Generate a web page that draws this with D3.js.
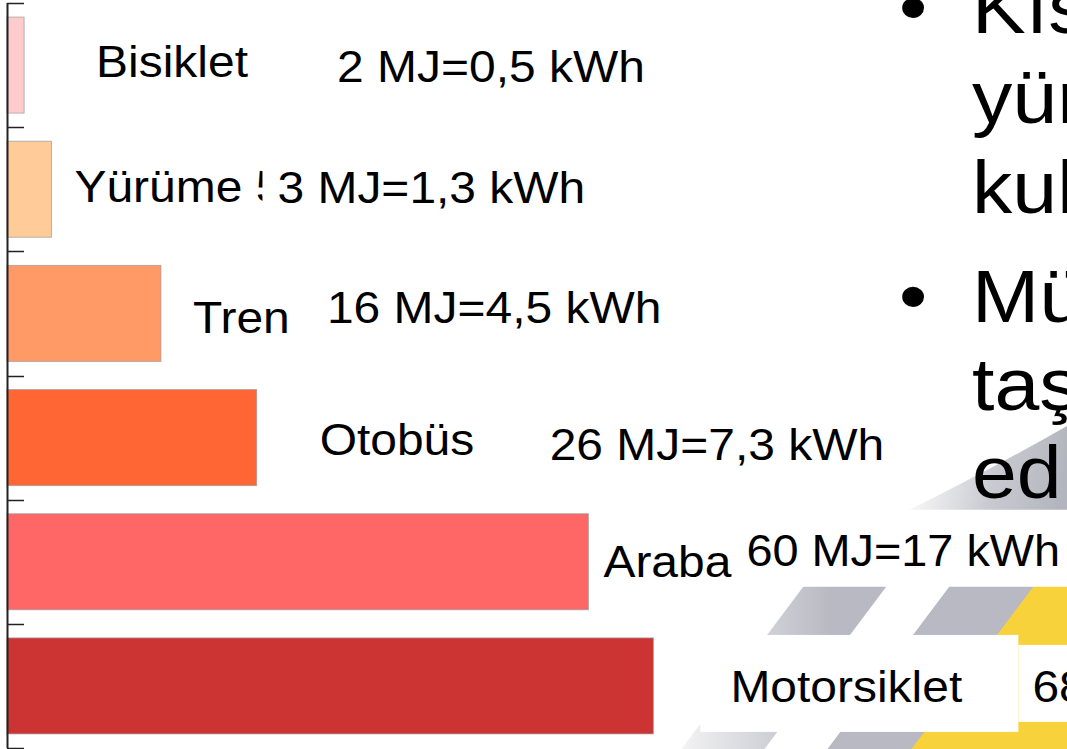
<!DOCTYPE html>
<html><head><meta charset="utf-8">
<script src="https://cdn.jsdelivr.net/npm/d3@7"></script>
<style>html,body{margin:0;padding:0;background:#fff;overflow:hidden}svg{display:block}</style>
</head><body>
<svg id="c" width="1067" height="749"></svg>
<script>
// ---- data ----
const categories = ["Bisiklet", "Yürüme", "Tren", "Otobüs", "Araba", "Motorsiklet"];
const valuesKWh = [0.5, 1.3, 4.5, 7.3, 17, 18.9];
const nameLabels = ["Bisiklet", "Yürüme 5", "Tren", "Otobüs", "Araba", "Motorsiklet"];
const valueLabels = ["2 MJ=0,5 kWh", "3 MJ=1,3 kWh", "16 MJ=4,5 kWh", "26 MJ=7,3 kWh", "60 MJ=17 kWh", "68 MJ=19 kWh"];
const bulletLines = [["Kıs", "yür", "kul"], ["Mü", "taş", "edi"]];

// ---- layout / style ----
const barColors = ["#FFCCCC", "#FFCC99", "#FF9966", "#FF6633", "#FF6666", "#CC3333"];
const nameDx = [72, 23, 32, 63, 15, 77];
const nameDy = [12, 13, 20, 17, 15, 16];
const valueDx = [313, 226, 166, 293, 158, 379];
const valueDy = [17, 14, 10, 22, 4, 16];
const valueSX = [1.09, 1.09, 1.09, 1.09, 1.065, 1.09];
const FONT = "'Liberation Sans', Arial, sans-serif";
const SX = 1.09;

const W = 1067, H = 749;
const svg = d3.select("#c");

const x = d3.scaleLinear().domain([0, 20]).range([7, 7 + 20 * 34.2]);
const y = d3.scaleBand().domain(categories).range([3, 748]).padding(0);
const barH = 96;

// ---- background slide graphic ----
const defs = svg.append("defs");
const g1 = defs.append("linearGradient").attr("id", "fade")
  .attr("gradientUnits", "userSpaceOnUse").attr("x1", 650).attr("x2", 830).attr("y1", 0).attr("y2", 0);
g1.append("stop").attr("offset", 0).attr("stop-color", "#B8B9C2").attr("stop-opacity", 0);
g1.append("stop").attr("offset", 1).attr("stop-color", "#B8B9C2").attr("stop-opacity", 1);
const g2 = defs.append("linearGradient").attr("id", "fadeTop")
  .attr("gradientUnits", "userSpaceOnUse").attr("x1", 905).attr("y1", 470).attr("x2", 1060).attr("y2", 500);
g2.append("stop").attr("offset", 0).attr("stop-color", "#B8B9C2").attr("stop-opacity", 0);
g2.append("stop").attr("offset", 0.55).attr("stop-color", "#B8B9C2").attr("stop-opacity", 0.75);
g2.append("stop").attr("offset", 1).attr("stop-color", "#B3B5BE").attr("stop-opacity", 1);
defs.append("clipPath").attr("id", "deco").append("path")
  .attr("d", `M1067,512 L1067,749 L560,749 L560,512 Z`);
// upper swoosh part (solid gradient, above the "60 MJ" text box)
svg.append("path").attr("fill", "url(#fadeTop)")
  .attr("d", "M905,512 Q990,470 1067,426 L1067,512 Z");
const deco = svg.append("g").attr("clip-path", "url(#deco)");
const slope = 0.75;
function stripe(x0, x1, fill) {
  const yA = 500, yB = 749;
  const sh = v => (v - 635) * slope;
  deco.append("path").attr("fill", fill)
    .attr("d", `M${x0 - sh(yA)},${yA} L${x1 - sh(yA)},${yA} L${x1 - sh(yB)},${yB} L${x0 - sh(yB)},${yB} Z`);
}
stripe(767, 850, "url(#fade)");
stripe(913, 998, "#B8B9C2");
stripe(997, 1400, "#F8D23A");

// ---- bars ----
svg.append("g").selectAll("rect").data(categories).join("rect")
  .attr("x", x(0))
  .attr("y", d => y(d) + (y.bandwidth() - barH) / 2)
  .attr("width", (d, i) => x(valuesKWh[i]) - x(0))
  .attr("height", barH)
  .attr("fill", (d, i) => barColors[i])
  .attr("stroke", "#9a9a9a").attr("stroke-opacity", 0.7).attr("stroke-width", 1);

// ---- axis (line + ticks at band boundaries) ----
const ax = svg.append("g");
ax.append("line").attr("x1", 7.5).attr("x2", 7.5).attr("y1", y.range()[0]).attr("y2", y.range()[1])
  .attr("stroke", "#222").attr("stroke-width", 2);
const bounds = categories.map(c => y(c)).concat([y.range()[1]]);
ax.selectAll("line.t").data(bounds).join("line").attr("class", "t")
  .attr("x1", 7).attr("x2", 24).attr("y1", d => Math.round(d) + 0.5).attr("y2", d => Math.round(d) + 0.5)
  .attr("stroke", "#222").attr("stroke-width", 1.5);

// ---- labels ----
const labG = svg.append("g");
function addText(parent, str, tx, ty, size, sx) {
  return parent.append("text").text(str)
    .attr("transform", `translate(${tx},${ty}) scale(${sx || SX},1)`)
    .attr("font-family", FONT).attr("font-size", size).attr("fill", "#000");
}
const cy = c => y(c) + y.bandwidth() / 2;
const boxG = labG.append("g");
function textW(str, size) {
  const tmp = addText(labG, str, -1000, -1000, size);
  const w = tmp.node().getComputedTextLength() * SX;
  tmp.remove();
  return w;
}
// white slide text-box backgrounds
{
  const c4 = categories[4], c5 = categories[5];
  const v4x = x(valuesKWh[4]) + valueDx[4];
  boxG.append("rect").attr("x", v4x - 8).attr("y", cy(c4) - 52).attr("width", W - v4x + 8).attr("height", 77).attr("fill", "#fff");
  const n5x = x(valuesKWh[5]) + nameDx[5];
  const v5x = x(valuesKWh[5]) + valueDx[5];
  boxG.append("rect").attr("x", n5x - 30).attr("y", cy(c5) - 51).attr("width", (v5x - 14) - (n5x - 30)).attr("height", 97).attr("fill", "#fff");
  boxG.append("rect").attr("x", v5x - 14).attr("y", cy(c5) - 41).attr("width", W - v5x + 14).attr("height", 77).attr("fill", "#fff");
}
categories.forEach((c, i) => {
  addText(labG, nameLabels[i], x(valuesKWh[i]) + nameDx[i], cy(c) + nameDy[i], 44);
});
// the "3 MJ" text box overlaps the end of the "Yürüme" label
{
  const c1 = categories[1];
  const v1x = x(valuesKWh[1]) + valueDx[1];
  labG.append("rect").attr("x", v1x - 15).attr("y", cy(c1) - 50)
    .attr("width", textW(valueLabels[1], 44) + 20).attr("height", 95).attr("fill", "#fff");
}
categories.forEach((c, i) => {
  addText(labG, valueLabels[i], x(valuesKWh[i]) + valueDx[i], cy(c) + valueDy[i], 44, valueSX[i]);
});

// ---- bullet text (slide body, clipped by the frame) ----
const bulletBase = [[33, 123, 213], [322, 410, 498]];
const bg = svg.append("g");
bulletLines.forEach((lines, p) => {
  addText(bg, "•", 899, bulletBase[p][0], 74);
  lines.forEach((ln, j) => addText(bg, ln, 972, bulletBase[p][j], 74));
});
</script>
</body></html>
